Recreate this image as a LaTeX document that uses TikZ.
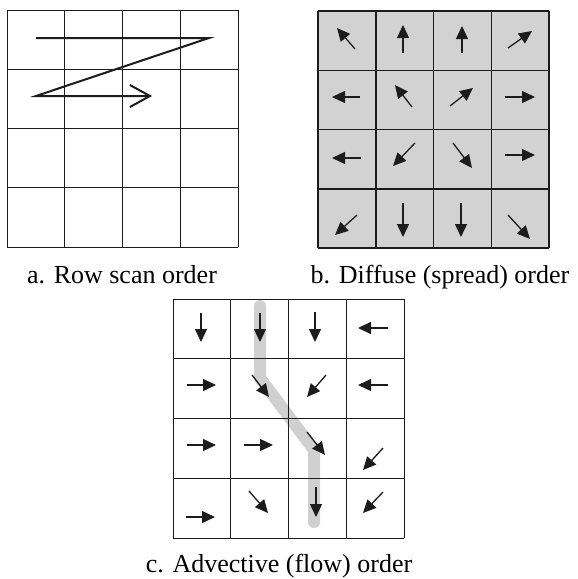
\documentclass[tikz,border=0pt]{standalone}
\usepackage{fontspec}
\setmainfont{Liberation Serif}
\usetikzlibrary{arrows.meta}
\definecolor{ordink}{RGB}{28,28,28}
\definecolor{ordfill}{RGB}{210,210,210}
\definecolor{ordband}{RGB}{208,208,208}

\begin{document}
\begin{tikzpicture}[x=1pt,y=-1pt,
  gridline/.style={line width=0.9pt,ordink},
  cellarrow/.style={-{Triangle[length=13pt,width=12pt]},line width=1.3pt,ordink},
  caption/.style={font=\fontsize{26}{30}\selectfont,anchor=base}]
  \useasboundingbox (0,0) rectangle (578,579);
  % a. row scan
  \begin{scope}[shift={(7,10)}]
    \foreach \i in {0,...,4} {
      \draw[gridline] (\i*57.75,0) -- (\i*57.75,237);
      \draw[gridline] (0,\i*59.25) -- (231,\i*59.25);
    }
  \end{scope}
  \draw[line width=2pt,ordink,-{Straight Barb[length=20pt,width=22pt]}]
    (36,38) -- (209,38) -- (36,96) -- (152,96);
  \node[caption] (capa) at (122,283) {a. Row scan order};
  % b. diffuse
  \fill[ordfill] (318,11) rectangle (549,248);
  \begin{scope}[shift={(318,11)}]
    \foreach \i in {0,...,4} {
      \draw[gridline,line width=1.5pt] (\i*57.75,0) -- (\i*57.75,237);
      \draw[gridline,line width=1.5pt] (0,\i*59.25) -- (231,\i*59.25);
    }
  \end{scope}
  \foreach \xa/\ya/\xb/\yb in {355/49/337/28, 403/53/403/25, 462/53/462/26, 508/48/532/31,
      360/97/332/97, 412/107/395/85, 450/106/473/88, 505/97/535/97,
      361/158/332/158, 415/143/393/166, 453/143/472/168, 505/155/535/155,
      357/215/335/235, 403/203/403/237, 461/203/461/237, 508/215/530/239}
    \draw[cellarrow] (\xa,\ya) -- (\xb,\yb);
  \node[caption] (capb) at (440,283) {b. Diffuse (spread) order};
  % c. advective
  \draw[ordband,line width=12pt,line cap=round,line join=round]
    (260,306) -- (260,378) -- (314,450) -- (314,522);
  \begin{scope}[shift={(173,299)}]
    \foreach \i in {0,...,4} {
      \draw[gridline] (\i*57.75,0) -- (\i*57.75,239);
      \draw[gridline] (0,\i*59.75) -- (231,\i*59.75);
    }
  \end{scope}
  \foreach \xa/\ya/\xb/\yb in {201/313/201/342, 260/313/260/342, 315/312/315/342, 388/328/358/328,
      187/385/216/385, 252/375/269/397, 326/375/307/397, 388/385/358/385,
      187/445/216/445, 244/445/273/445, 307/432/325/455, 383/448/363/470,
      186/517/215/517, 249/491/268/513, 316/487/316/517, 383/492/363/513}
    \draw[cellarrow] (\xa,\ya) -- (\xb,\yb);
  \node[caption] (capc) at (279,572) {c. Advective (flow) order};
\end{tikzpicture}
\end{document}
